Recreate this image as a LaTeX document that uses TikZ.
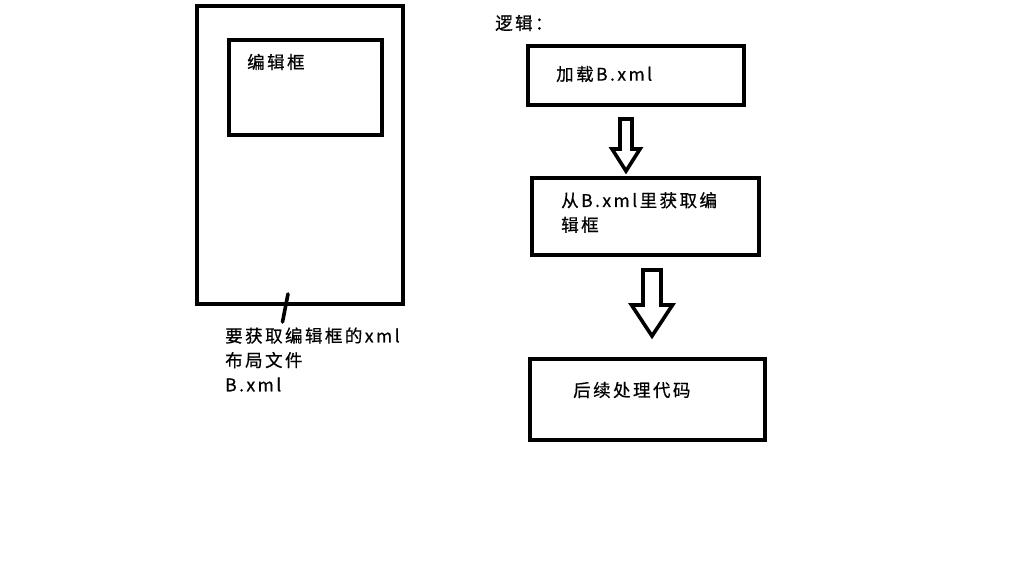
\documentclass[tikz,border=0pt]{standalone}
\usepackage{fontspec}
\newfontfamily\cjk[LetterSpace=14,FakeBold=0.6]{Noto Sans CJK SC}
\usetikzlibrary{calc}

% hollow block arrow: #1 top, #2 tip, #3 shaft half width, #4 head half width, #5 head length
\newcommand{\fatarrow}[5]{%
  \draw[blockarr] ($(#1)+(-#3,0)$) -- ($(#1)+(#3,0)$) -- ($(#2)+(#3,-#5)$) -- ($(#2)+(#4,-#5)$)
    -- (#2) -- ($(#2)+(-#4,-#5)$) -- ($(#2)+(-#3,-#5)$) -- cycle;}

\begin{document}
\begin{tikzpicture}[
  x=1pt,y=-1pt,
  box/.style={draw, line width=3.6pt, minimum width=#1, inner sep=0pt},
  txt/.style={anchor=west, inner sep=0pt, align=left, font=\cjk\fontsize{17.5}{24.5}\selectfont},
  blockarr/.style={draw, line width=3.6pt},
  tick/.style={line width=3.6pt, line cap=round}
]
\useasboundingbox[fill=white] (0,0) rectangle (1030,567);
% layout file
\node[box=206pt, minimum height=298pt] (frame) at (300,155) {};
\node[box=153pt, minimum height=95pt] (editbox) at (305.5,87.5) {};
\node[txt] (edittxt) at (247,62) {编辑框};
\node[txt] (filetxt) at (225,359.5) {要获取编辑框的xml\\布局文件\\B.xml};
\coordinate (tickA) at (288,294);
\coordinate (tickB) at (282.5,322);
\draw[tick] (tickA) -- (tickB);
% logic
\node[txt] (logic) at (495,23) {逻辑：};
\node[box=216pt, minimum height=59pt] (load) at (636,75.5) {};
\node[txt] at (556,74) {加载B.xml};
\node[box=227pt, minimum height=77pt] (fetch) at (645.5,216.5) {};
\node[txt] at (561,212.5) {从B.xml里获取编\\辑框};
\node[box=235pt, minimum height=81pt] (rest) at (647.5,399.5) {};
\node[txt] at (573,390) {后续处理代码};
\coordinate (a1top) at (626,119);
\coordinate (a1tip) at (626,171);
\coordinate (a2top) at (652,270);
\coordinate (a2tip) at (652,336);
\fatarrow{a1top}{a1tip}{6}{14}{22}
\fatarrow{a2top}{a2tip}{9}{20.5}{31}
\end{tikzpicture}
\end{document}
